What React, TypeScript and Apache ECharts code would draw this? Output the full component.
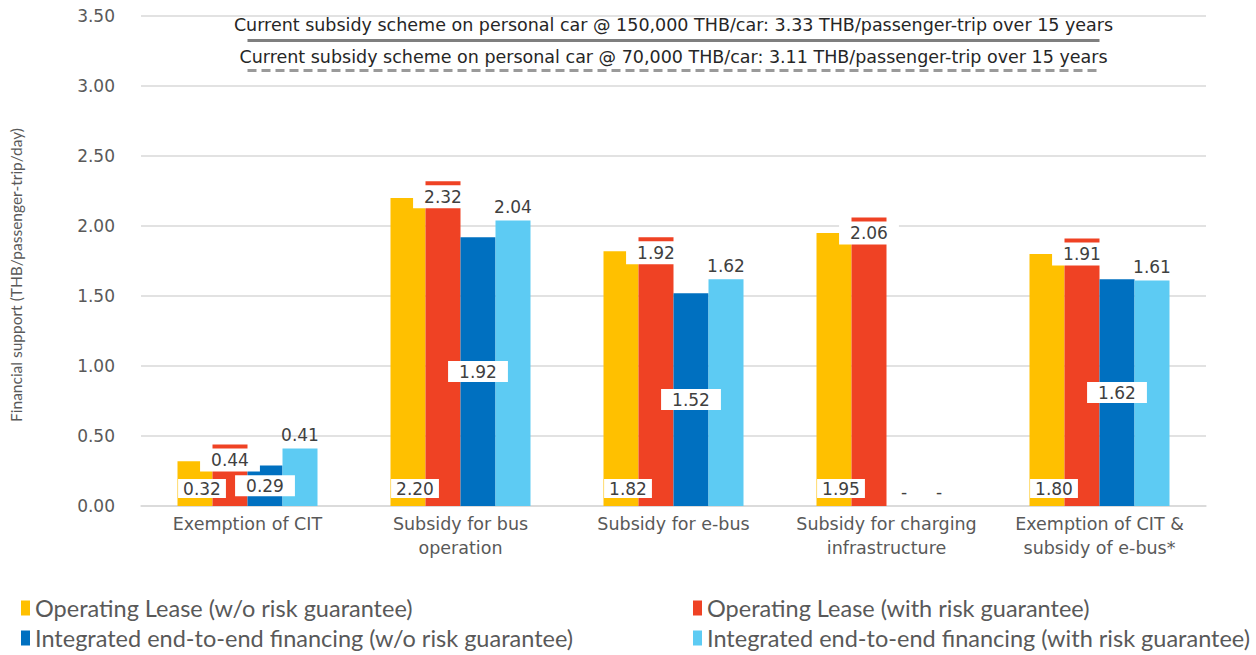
import React, { useEffect, useRef } from "react";
import * as echarts from "echarts";

const categories = [
  "Exemption of CIT",
  "Subsidy for bus\noperation",
  "Subsidy for e-bus",
  "Subsidy for charging\ninfrastructure",
  "Exemption of CIT &\nsubsidy of e-bus*",
];
const seriesNames = [
  "Operating Lease (w/o risk guarantee)",
  "Operating Lease (with risk guarantee)",
  "Integrated end-to-end financing (w/o risk guarantee)",
  "Integrated end-to-end financing (with risk guarantee)",
];
const opLeaseNoGuarantee = [0.32, 2.2, 1.82, 1.95, 1.8];
const opLeaseGuarantee = [0.44, 2.32, 1.92, 2.06, 1.91];
// null = no value, shown as "-"
const integratedNoGuarantee: (number | null)[] = [0.29, 1.92, 1.52, null, 1.62];
const integratedGuarantee: (number | null)[] = [0.41, 2.04, 1.62, null, 1.61];
const refLines = [
  { value: 3.33, text: "Current subsidy scheme on personal car @ 150,000 THB/car: 3.33 THB/passenger-trip over 15 years" },
  { value: 3.11, text: "Current subsidy scheme on personal car @ 70,000 THB/car: 3.11 THB/passenger-trip over 15 years" },
];
const colors = ["#FFC000", "#EF4224", "#0070C0", "#5DCBF3"];
const FONT = "Lato";
const WIDE = "DejaVu Sans";
const LABEL_COLOR = "#404040";

function withDash(arr: (number | null)[]) {
  return arr.map((v) =>
    v === null
      ? {
          value: 0,
          label: {
            show: true,
            position: "top",
            formatter: "-",
            backgroundColor: "transparent",
            padding: 0,
            distance: 6,
            offset: [0, 0],
          },
        }
      : v
  );
}

export default function App() {
  const ref = useRef<HTMLDivElement>(null);
  useEffect(() => {
    document.body.style.margin = "0";
    if (!ref.current) return;
    const chart = echarts.init(ref.current, undefined, { renderer: "svg" });
    const baseLabel = {
      show: true,
      fontFamily: WIDE,
      fontSize: 17,
      color: LABEL_COLOR,
      formatter: (p: any) => Number(p.value).toFixed(2),
    };
    const legendBase = {
      itemWidth: 9,
      itemHeight: 15,
      itemTextGap: 8,
      icon: "rect",
      textStyle: { fontFamily: FONT, fontSize: 23.5, color: "#595959" },
    };
    const refLabel = (text: string, distance: number) => ({
      show: true,
      position: "middle",
      distance,
      formatter: text,
      fontFamily: WIDE,
      fontSize: 17.5,
      color: "#262626",
    });
    chart.setOption({
      animation: false,
      textStyle: { fontFamily: FONT },
      grid: { left: 135, right: 50, top: 16, bottom: 149 },
      legend: [
        { ...legendBase, left: 16, top: 591, data: [seriesNames[0]] },
        { ...legendBase, left: 688, top: 591, data: [seriesNames[1]] },
        { ...legendBase, left: 16, top: 621, data: [seriesNames[2]] },
        { ...legendBase, left: 688, top: 621, data: [seriesNames[3]] },
      ],
      xAxis: {
        type: "category",
        data: categories,
        axisTick: { show: false },
        axisLine: { lineStyle: { color: "#d9d9d9", width: 1.5 } },
        axisLabel: {
          interval: 0,
          fontFamily: WIDE,
          fontSize: 17.5,
          color: "#595959",
          margin: 6,
          lineHeight: 24,
        },
      },
      yAxis: {
        type: "value",
        min: 0,
        max: 3.5,
        interval: 0.5,
        name: "Financial support (THB/passenger-trip/day)",
        nameLocation: "middle",
        nameGap: 117,
        nameTextStyle: {
          fontFamily: FONT,
          fontSize: 15.5,
          color: "#595959",
          padding: [0, 28, 0, 0],
        },
        axisLabel: {
          fontFamily: WIDE,
          fontSize: 17,
          color: "#595959",
          margin: 26,
          formatter: (v: number) => v.toFixed(2),
        },
        splitLine: { lineStyle: { color: "#d9d9d9", width: 1.5 } },
      },
      series: [
        {
          name: seriesNames[0],
          type: "bar",
          data: opLeaseNoGuarantee,
          barWidth: 35,
          barGap: "0%",
          itemStyle: { color: colors[0] },
          label: {
            ...baseLabel,
            position: "insideBottom",
            distance: 8,
            offset: [7, 0],
            backgroundColor: "#ffffff",
            padding: [1, 5],
          },
        },
        {
          name: seriesNames[1],
          type: "bar",
          data: opLeaseGuarantee,
          barWidth: 35,
          barGap: "0%",
          itemStyle: { color: colors[1] },
          label: {
            ...baseLabel,
            position: "insideTop",
            distance: 4,
            backgroundColor: "#ffffff",
            padding: [3, 11],
          },
        },
        {
          name: seriesNames[2],
          type: "bar",
          data: withDash(integratedNoGuarantee),
          barWidth: 35,
          barGap: "0%",
          itemStyle: { color: colors[2] },
          label: {
            ...baseLabel,
            position: "inside",
            backgroundColor: "#ffffff",
            padding: [2, 11],
          },
        },
        {
          name: seriesNames[3],
          type: "bar",
          data: withDash(integratedGuarantee),
          barWidth: 35,
          barGap: "0%",
          itemStyle: { color: colors[3] },
          label: {
            ...baseLabel,
            position: "top",
            distance: 5,
          },
        },
        {
          name: "reference",
          type: "line",
          data: [],
          silent: true,
          markLine: {
            silent: true,
            symbol: "none",
            data: [
              [
                {
                  coord: [0, refLines[0].value],
                  lineStyle: { color: "#7f7f7f", width: 3, type: "solid" },
                  label: refLabel(refLines[0].text, 6),
                },
                { coord: [4, refLines[0].value] },
              ],
              [
                {
                  coord: [0, refLines[1].value],
                  lineStyle: { color: "#9a9a9a", width: 3, type: [9, 5] },
                  label: refLabel(refLines[1].text, 5),
                },
                { coord: [4, refLines[1].value] },
              ],
            ],
          },
        },
      ],
    });
    return () => chart.dispose();
  }, []);
  return <div ref={ref} style={{ width: 1256, height: 655 }} />;
}
